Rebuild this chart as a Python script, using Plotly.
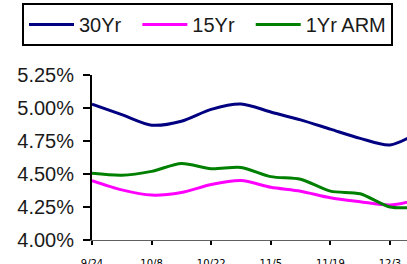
import plotly.graph_objects as go

dates = ["2009-09-24", "2009-10-01", "2009-10-08", "2009-10-15", "2009-10-22",
         "2009-10-29", "2009-11-05", "2009-11-12", "2009-11-19", "2009-11-26",
         "2009-12-03", "2009-12-10"]
rate_30yr = [5.03, 4.95, 4.87, 4.90, 4.99, 5.03, 4.97, 4.91, 4.84, 4.77, 4.72, 4.82]
rate_15yr = [4.45, 4.38, 4.34, 4.36, 4.42, 4.45, 4.40, 4.37, 4.32, 4.29, 4.265, 4.31]
rate_1yr_arm = [4.505, 4.49, 4.52, 4.58, 4.54, 4.55, 4.48, 4.46, 4.37, 4.35, 4.25, 4.25]

series_names = ["30Yr", "15Yr", "1Yr ARM"]
series_colors = ["#000080", "#FF00FF", "#008000"]

x_tick_vals = ["2009-09-24", "2009-10-08", "2009-10-22", "2009-11-05", "2009-11-19", "2009-12-03"]
x_tick_text = ["9/24", "10/8", "10/22", "11/5", "11/19", "12/3"]
y_tick_vals = [4.00, 4.25, 4.50, 4.75, 5.00, 5.25]
y_tick_text = ["4.00%", "4.25%", "4.50%", "4.75%", "5.00%", "5.25%"]

# trailing no-break spaces only widen the legend entries to the reference spacing
legend_pad = ["\u00a0\u00a0", "\u00a0\u00a0", ""]

fig = go.Figure()
for name, pad, vals, col in zip(series_names, legend_pad,
                                [rate_30yr, rate_15yr, rate_1yr_arm], series_colors):
    fig.add_trace(go.Scatter(x=dates, y=vals, name=name + pad, mode="lines",
                             line=dict(color=col, width=3, shape="spline", smoothing=0.8)))

W, H = 407, 264
ML, MR, MT, MB = 92, 0, 75, 24
pw, ph = W - ML - MR, H - MT - MB

fig.update_layout(
    width=W, height=H,
    margin=dict(l=ML, r=MR, t=MT, b=MB, autoexpand=False),
    paper_bgcolor="white", plot_bgcolor="white",
    font=dict(family="Liberation Sans, Arial", size=18, color="#1a1a1a"),
    showlegend=True,
    legend=dict(orientation="h", xref="paper", yref="paper",
                x=(22 - ML) / pw, y=1 + (MT - 3) / ph, xanchor="left", yanchor="top",
                bordercolor="black", borderwidth=2, bgcolor="white",
                font=dict(size=20, color="#1a1a1a"),
                itemwidth=45, tracegroupgap=0),
    xaxis=dict(type="date", range=["2009-09-24", "2009-12-07"],
               tickvals=x_tick_vals, ticktext=x_tick_text,
               ticks="outside", ticklen=4, tickwidth=2, tickcolor="black",
               showline=True, linecolor="#606060", linewidth=1,
               showgrid=False, zeroline=False, automargin=False,
               ticklabelstandoff=10,
               tickfont=dict(size=10, color="black", family="DejaVu Sans, Arial")),
    yaxis=dict(range=[4.0, 5.25], tickvals=y_tick_vals, ticktext=y_tick_text,
               ticks="outside", ticklen=7, tickwidth=2, tickcolor="black",
               showline=True, linecolor="black", linewidth=2,
               showgrid=False, zeroline=False, automargin=False, ticklabelstandoff=5,
               tickfont=dict(size=20, color="#1a1a1a")),
)

fig.write_html("out.html", config={"displayModeBar": False},
               post_script="document.body.style.margin='0';")
